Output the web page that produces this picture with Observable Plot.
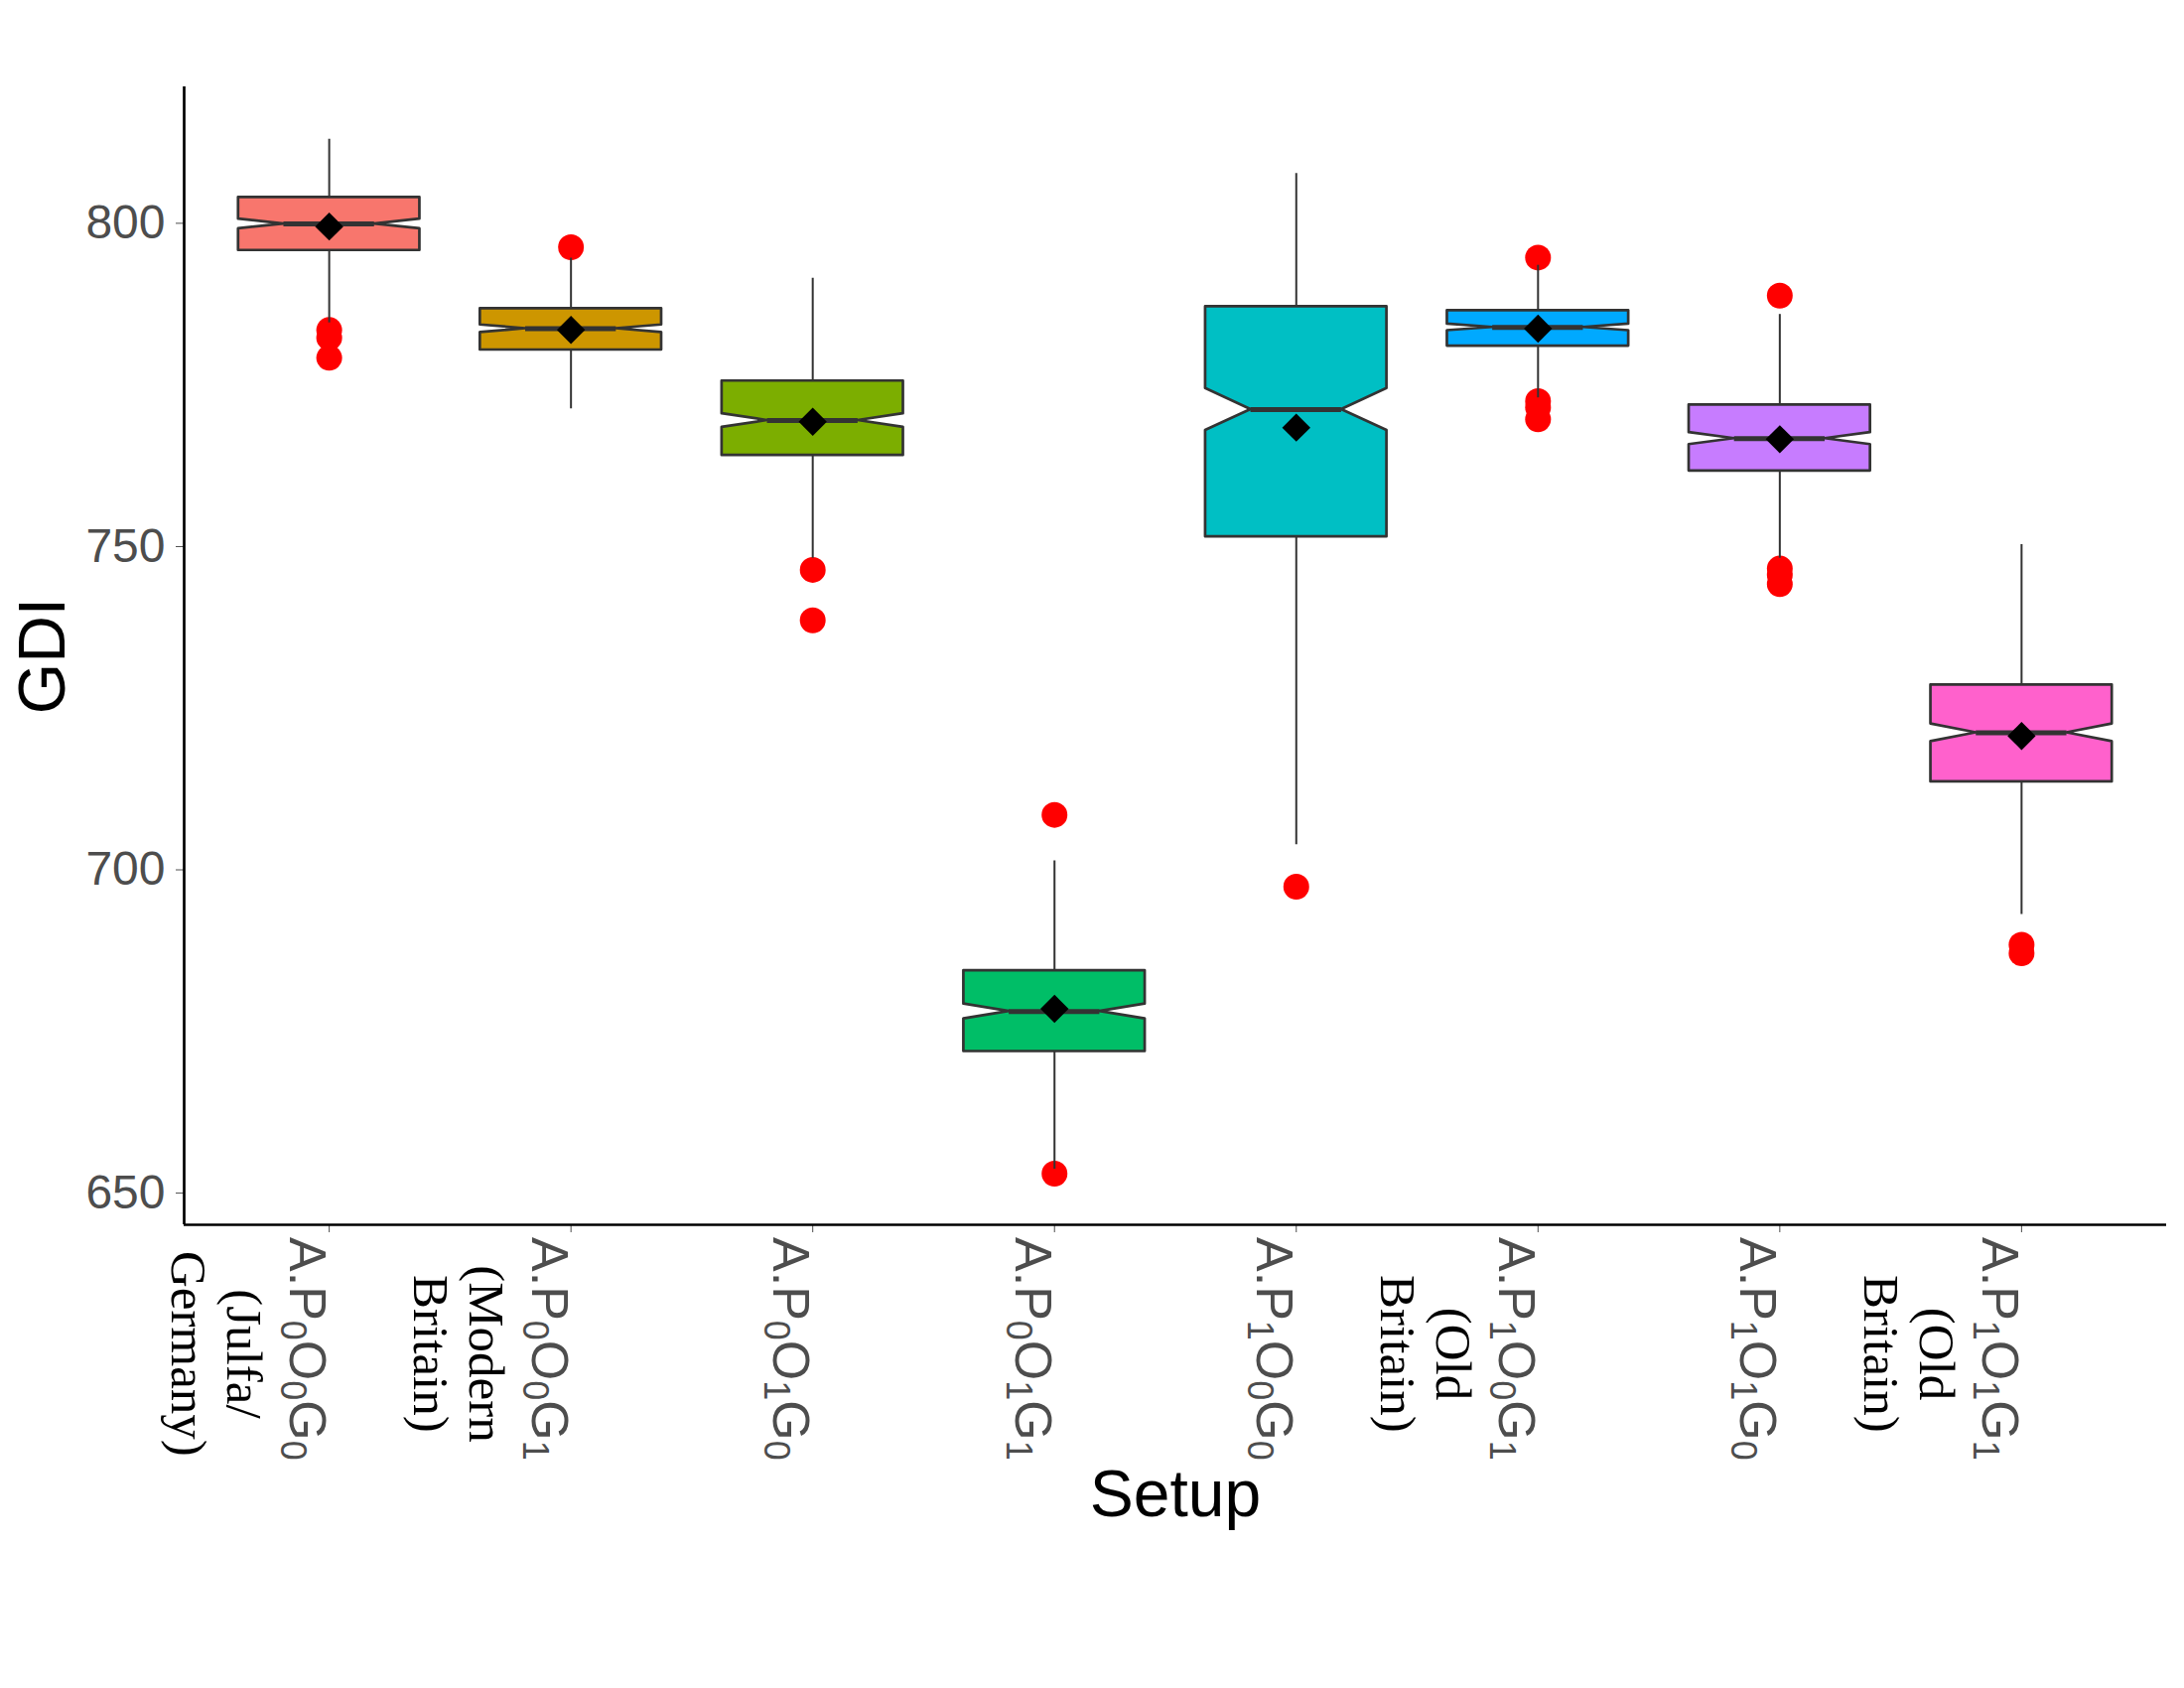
<!DOCTYPE html>
<html>
<head>
<meta charset="utf-8">
<script src="https://cdn.jsdelivr.net/npm/d3@7"></script>
<script src="https://cdn.jsdelivr.net/npm/@observablehq/plot@0.6"></script>
<style>
  body { margin: 0; background: #fff; }
</style>
</head>
<body>
<script>
// ---- data ----
const setups = ["A.P_0O_0G_0", "A.P_0O_0G_1", "A.P_0O_1G_0", "A.P_0O_1G_1",
                "A.P_1O_0G_0", "A.P_1O_0G_1", "A.P_1O_1G_0", "A.P_1O_1G_1"];
const notes = [["(Julfa/", "Germany)"], ["(Modern", "Britain)"], [], [], [],
               ["(Old", "Britain)"], [], ["(Old", "Britain)"]];
const colors = ["#F8766D", "#CD9600", "#7CAE00", "#00BE67", "#00BFC4", "#00A9FF", "#C77CFF", "#FF61CC"];
const whiskerHigh = [813.0, 794.6, 791.5, 701.4, 807.7, 793.5, 785.9, 750.3];
const q3          = [804.0, 786.8, 775.6, 684.4, 787.1, 786.5, 771.9, 728.6];
const median      = [799.9, 783.7, 769.5, 678.1, 771.2, 783.9, 766.7, 721.2];
const q1          = [795.8, 780.4, 764.1, 671.9, 751.5, 781.0, 761.7, 713.6];
const whiskerLow  = [784.6, 771.3, 748.2, 653.7, 703.9, 773.0, 748.2, 693.1];
const means       = [799.5, 783.5, 769.3, 678.5, 768.4, 783.7, 766.6, 720.7];
const outliers = [[783.5, 782.3, 779.2], [796.3], [746.4, 738.6], [708.5, 653.0],
                  [697.4], [794.7, 772.5, 771.5, 769.7], [788.8, 746.6, 745.6, 744.2], [688.4, 687.1]];
const nObs = 300;           // sample size used for notch (ggplot: 1.58*IQR/sqrt(n))
const yTicks = [650, 700, 750, 800];

// ---- derived tables ----
const boxWidth = 0.75;
const hw = boxWidth / 2;
const stats = setups.map((k, j) => {
  const iqr = q3[j] - q1[j];
  const nh = 1.58 * iqr / Math.sqrt(nObs);
  return {i: j + 1, k, q1: q1[j], q3: q3[j], med: median[j], lo: whiskerLow[j], hi: whiskerHigh[j],
          mean: means[j], nlo: median[j] - nh, nhi: median[j] + nh};
});
const boxPts = stats.flatMap(s => [
  {k: s.k, y: s.q1,  x1: s.i - hw,     x2: s.i + hw},
  {k: s.k, y: s.nlo, x1: s.i - hw,     x2: s.i + hw},
  {k: s.k, y: s.med, x1: s.i - hw / 2, x2: s.i + hw / 2},
  {k: s.k, y: s.nhi, x1: s.i - hw,     x2: s.i + hw},
  {k: s.k, y: s.q3,  x1: s.i - hw,     x2: s.i + hw}
]);
const outRows = outliers.flatMap((arr, j) => arr.map(v => ({i: j + 1, v})));

const sans = "'Liberation Sans', Arial, Helvetica, sans-serif";
const serif = "'Liberation Serif', 'Times New Roman', Times, serif";

const chart = Plot.plot({
  width: 2200,
  height: 1700,
  marginLeft: 185,
  marginRight: 18,
  marginTop: 87,
  marginBottom: 467,
  style: {fontSize: "48px", fontFamily: sans, color: "#4d4d4d", background: "#fff"},
  x: {domain: [0.4, 8.6], ticks: d3.range(1, setups.length + 1), tickFormat: () => "", tickSize: 8, label: null},
  y: {domain: [645.1, 821.1], ticks: yTicks, tickSize: 8, tickPadding: 11, label: null},
  color: {domain: setups, range: colors},
  marks: [
    Plot.dot(outRows, {x: "i", y: "v", r: 13, fill: "#FF0000", stroke: "none"}),
    Plot.ruleX(stats, {x: "i", y1: "lo", y2: "hi", stroke: "#333333", strokeWidth: 2}),
    Plot.areaX(boxPts, {y: "y", x1: "x1", x2: "x2", z: "k", fill: "k", stroke: "#333333", strokeWidth: 2.7, fillOpacity: 1}),
    Plot.ruleY(stats, {y: "med", x1: d => d.i - hw / 2, x2: d => d.i + hw / 2, stroke: "#333333", strokeWidth: 5}),
    Plot.dot(stats, {x: "i", y: "mean", symbol: "diamond2", r: 12.8, fill: "black", stroke: "none"}),
    Plot.ruleX([0.4], {stroke: "black", strokeWidth: 2.7}),
    Plot.ruleY([645.1], {stroke: "black", strokeWidth: 2.7}),
    Plot.text(["Setup"], {text: d => d, frameAnchor: "bottom", lineAnchor: "middle", textAnchor: "middle", dy: 272, fontSize: 66, fill: "black", fontFamily: sans}),
    Plot.text(["GDI"], {text: d => d, frameAnchor: "left", lineAnchor: "middle", textAnchor: "middle", dx: -141.5, rotate: -90, fontSize: 66, fill: "black", fontFamily: sans})
  ]
});
document.body.append(chart);

// ---- rotated x tick labels with subscripts and notes, positioned through the x scale ----
const xs = chart.scale("x");
const ys = chart.scale("y");
const yBase = ys.apply(ys.domain[0]) + 13;
const svgSel = d3.select(chart.tagName.toLowerCase() === "svg" ? chart : chart.querySelector("svg"));
const lg = svgSel.append("g").attr("aria-label", "x tick labels");
setups.forEach((s, j) => {
  const cx = xs.apply(j + 1);
  const g = lg.append("g").attr("transform", `translate(${cx},${yBase}) rotate(90)`);
  const main = g.append("text").attr("x", 0).attr("y", 39)
    .attr("fill", "#4d4d4d").attr("font-family", sans).attr("font-size", 52).attr("text-anchor", "start");
  // parse subscripts
  const segs = [];
  for (let c = 0; c < s.length; c++) {
    if (s[c] === "_") { segs.push({t: s[c + 1], sub: true}); c++; }
    else if (segs.length && !segs[segs.length - 1].sub) segs[segs.length - 1].t += s[c];
    else segs.push({t: s[c], sub: false});
  }
  let shifted = false;
  segs.forEach(seg => {
    const ts = main.append("tspan").text(seg.t).attr("font-size", seg.sub ? 36 : 52);
    if (seg.sub && !shifted) { ts.attr("dy", 9); shifted = true; }
    else if (!seg.sub && shifted) { ts.attr("dy", -9); shifted = false; }
  });
  const len = main.node().getComputedTextLength();
  const offs = [102, 158];
  notes[j].forEach((line, li) => {
    g.append("text").attr("x", len / 2 + 5).attr("y", offs[li])
      .attr("fill", "black").attr("font-family", serif).attr("font-size", 51)
      .attr("text-anchor", "middle").text(line);
  });
});
</script>
</body>
</html>
